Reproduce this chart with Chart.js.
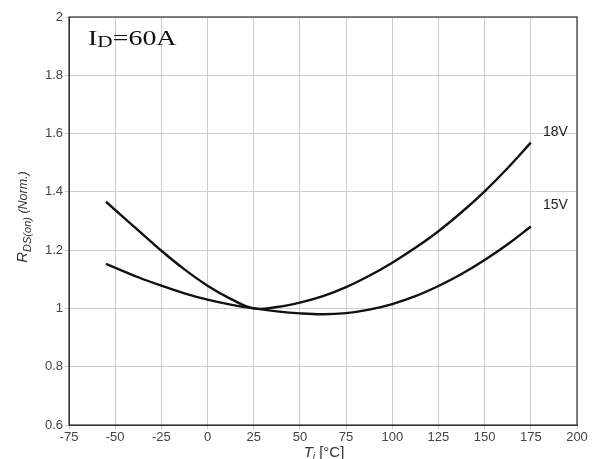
<!DOCTYPE html>
<html>
<head>
<meta charset="utf-8">
<script src="https://cdn.jsdelivr.net/npm/chart.js@4/dist/chart.umd.min.js"></script>
<style>
  html, body { margin: 0; padding: 0; background: #fff; }
  #wrap { width: 599px; height: 459px; }
</style>
</head>
<body>
<div id="wrap"><canvas id="chart" width="599" height="459"></canvas></div>
<script>
// junction temperature (°C) and normalized RDS(on)
const temps = [-55, -37.5, -25, -12.5, 0, 12.5, 25, 37.5, 50, 62.5, 75, 87.5, 100, 112.5, 125, 137.5, 150, 162.5, 175];
const rds18V = [1.366, 1.268, 1.198, 1.134, 1.078, 1.033, 1.0, 1.005, 1.02, 1.042, 1.073, 1.112, 1.157, 1.208, 1.265, 1.33, 1.402, 1.482, 1.569];
const rds15V = [1.153, 1.107, 1.078, 1.052, 1.03, 1.013, 1.0, 0.99, 0.983, 0.98, 0.984, 0.996, 1.015, 1.042, 1.077, 1.118, 1.166, 1.22, 1.281];

const xTicks = [-75, -50, -25, 0, 25, 50, 75, 100, 125, 150, 175, 200];
const yTicks = [0.6, 0.8, 1, 1.2, 1.4, 1.6, 1.8, 2];
const yTickLabels = ['0.6', '0.8', '1', '1.2', '1.4', '1.6', '1.8', '2'];

const curveLabels = ['18V', '15V'];

const toPoints = (ys) => temps.map((t, i) => ({ x: t, y: ys[i] }));

const textPlugin = {
    id: 'textPlugin',
    afterDraw(chart) {
        const ctx = chart.ctx;
        const area = chart.chartArea;
        ctx.save();

        // frame round the plot area
        ctx.strokeStyle = '#333';
        ctx.lineWidth = 1.2;
        ctx.strokeRect(area.left, area.top, area.right - area.left, area.bottom - area.top);

        // curve labels, just right of the last point
        ctx.fillStyle = '#222';
        ctx.font = '14px "Liberation Sans", Arial, sans-serif';
        ctx.textBaseline = 'middle';
        ctx.textAlign = 'left';
        ctx.fillText(curveLabels[0], area.right - 34, 132);
        ctx.fillText(curveLabels[1], area.right - 34, 205);

        // I_D=60A, slightly stretched like the original
        ctx.save();
        ctx.translate(88, 0);
        ctx.scale(1.33, 1);
        ctx.fillStyle = '#111';
        ctx.textBaseline = 'alphabetic';
        ctx.font = '21px "Liberation Serif", "Times New Roman", serif';
        let x = 0;
        ctx.fillText('I', x, 45);
        x += ctx.measureText('I').width;
        ctx.font = '16px "Liberation Serif", "Times New Roman", serif';
        ctx.fillText('D', x, 47);
        x += ctx.measureText('D').width;
        ctx.font = '21px "Liberation Serif", "Times New Roman", serif';
        ctx.fillText('=60A', x, 45);
        ctx.restore();

        // x axis title
        ctx.fillStyle = '#333';
        ctx.textBaseline = 'alphabetic';
        const midX = (area.left + area.right) / 2;
        ctx.font = 'italic 15px "Liberation Sans", Arial, sans-serif';
        const wT = ctx.measureText('T').width;
        ctx.font = 'italic 10px "Liberation Sans", Arial, sans-serif';
        const wj = ctx.measureText('j').width;
        ctx.font = '15px "Liberation Sans", Arial, sans-serif';
        const wC = ctx.measureText(' [°C]').width;
        x = midX - (wT + wj + wC) / 2 + 1;
        ctx.font = 'italic 15px "Liberation Sans", Arial, sans-serif';
        ctx.fillText('T', x, 457);
        x += wT;
        ctx.font = 'italic 10px "Liberation Sans", Arial, sans-serif';
        ctx.fillText('j', x, 460);
        x += wj;
        ctx.font = '15px "Liberation Sans", Arial, sans-serif';
        ctx.fillText(' [°C]', x, 457);

        // y axis title, rotated
        ctx.translate(27, 217);
        ctx.rotate(-Math.PI / 2);
        const parts = [
            { t: 'R', f: 'italic 15px', dy: 0 },
            { t: 'DS(on)', f: 'italic 11px', dy: 4 },
            { t: ' (Norm.)', f: 'italic 12.5px', dy: 0 }
        ];
        let total = 0;
        parts.forEach(p => {
            ctx.font = p.f + ' "Liberation Sans", Arial, sans-serif';
            total += ctx.measureText(p.t).width;
        });
        x = -total / 2;
        parts.forEach(p => {
            ctx.font = p.f + ' "Liberation Sans", Arial, sans-serif';
            ctx.fillText(p.t, x, p.dy);
            x += ctx.measureText(p.t).width;
        });
        ctx.restore();
    }
};

new Chart(document.getElementById('chart').getContext('2d'), {
    type: 'scatter',
    data: {
        datasets: [
            {
                label: '18V',
                data: toPoints(rds18V),
                showLine: true,
                borderColor: '#111',
                borderWidth: 2.4,
                pointRadius: 0,
                tension: 0.4,
                fill: false
            },
            {
                label: '15V',
                data: toPoints(rds15V),
                showLine: true,
                borderColor: '#111',
                borderWidth: 2.4,
                pointRadius: 0,
                tension: 0.4,
                fill: false
            }
        ]
    },
    options: {
        responsive: false,
        animation: false,
        layout: { padding: { top: 17, right: 22, left: 0, bottom: 0 } },
        plugins: {
            legend: { display: false },
            tooltip: { enabled: false }
        },
        scales: {
            x: {
                type: 'linear',
                min: -75,
                max: 200,
                afterBuildTicks: (scale) => { scale.ticks = xTicks.map(v => ({ value: v })); },
                afterFit: (scale) => { scale.height = 34; },
                ticks: {
                    color: '#444',
                    font: { family: '"Liberation Sans", Arial, sans-serif', size: 13 },
                    padding: 1,
                    maxRotation: 0,
                    autoSkip: false
                },
                grid: { color: '#cccccc', lineWidth: 1, tickLength: 4 },
                border: { color: '#333' }
            },
            y: {
                type: 'linear',
                min: 0.6,
                max: 2,
                afterBuildTicks: (scale) => { scale.ticks = yTicks.map(v => ({ value: v })); },
                afterFit: (scale) => { scale.width = 69; },
                ticks: {
                    color: '#444',
                    font: { family: '"Liberation Sans", Arial, sans-serif', size: 13 },
                    padding: 2,
                    callback: (v) => {
                        const i = yTicks.findIndex(t => Math.abs(t - v) < 1e-6);
                        return i >= 0 ? yTickLabels[i] : '';
                    }
                },
                grid: { color: '#cccccc', lineWidth: 1, tickLength: 4 },
                border: { color: '#333' }
            }
        }
    },
    plugins: [textPlugin]
});
</script>
</body>
</html>
